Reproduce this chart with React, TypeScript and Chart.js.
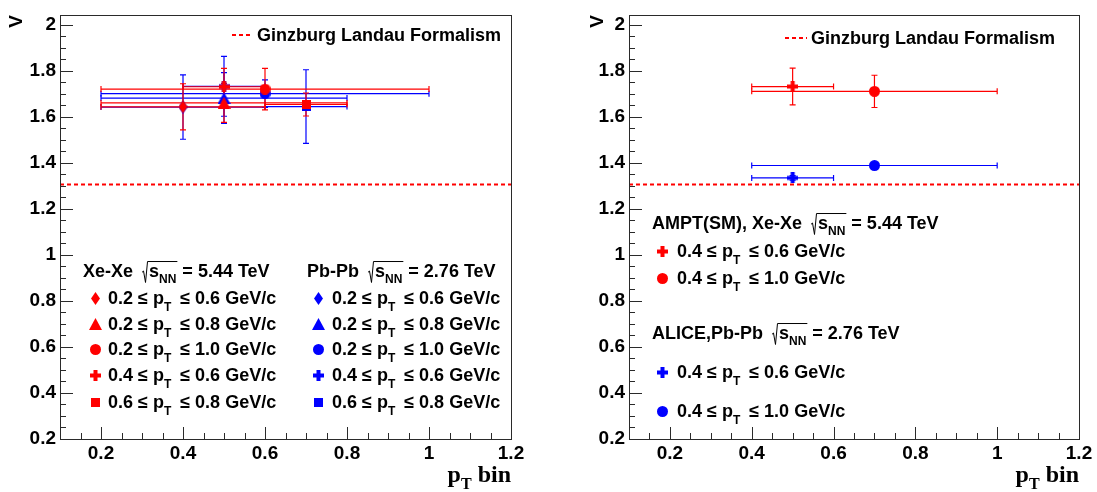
import React, { useEffect, useRef } from "react";
import { Chart, registerables } from "chart.js";

Chart.register(...registerables);

const FONT = '"Liberation Sans", Arial, Helvetica, sans-serif';
const SERIF = '"Liberation Serif", "Times New Roman", serif';

// ---------- axes ----------
const X_MIN = 0.1;
const X_MAX = 1.2;
const Y_MIN = 0.2;
const Y_MAX = 2.04;
const X_TICKS = [0.2, 0.4, 0.6, 0.8, 1.0, 1.2];
const Y_TICKS = [0.2, 0.4, 0.6, 0.8, 1.0, 1.2, 1.4, 1.6, 1.8, 2.0];
const MINOR_STEP = 0.05;
const X_TITLE_MAIN = "p";
const X_TITLE_SUB = "T";
const X_TITLE_REST = " bin";
const Y_TITLE = "V";

// ---------- Ginzburg Landau reference ----------
const GL_VALUE = 1.305;
const GL_LABEL = "Ginzburg Landau Formalism";

// ---------- left panel ----------
const LEFT_BIN_LO = ["0.2", "0.2", "0.2", "0.4", "0.6"];
const LEFT_BIN_HI = ["0.6", "0.8", "1.0", "0.6", "0.8"];
const LEFT_CENTERS = [0.4, 0.5, 0.6, 0.5, 0.7];
const LEFT_HALF_WIDTHS = [0.2, 0.3, 0.4, 0.1, 0.1];
const LEFT_MARKERS = ["diamond", "triangle", "circle", "cross", "square"];
const XE_VALUES = [1.643, 1.66, 1.72, 1.73, 1.653];
const XE_ERRORS = [0.1, 0.085, 0.09, 0.08, 0.05];
const PB_VALUES = [1.642, 1.681, 1.7, 1.732, 1.644];
const PB_ERRORS = [0.14, 0.11, 0.06, 0.13, 0.16];
const XE_HEADER = "Xe-Xe";
const XE_ENERGY = "= 5.44 TeV";
const PB_HEADER = "Pb-Pb";
const PB_ENERGY = "= 2.76 TeV";

// ---------- right panel ----------
const RIGHT_BIN_LO = ["0.4", "0.4"];
const RIGHT_BIN_HI = ["0.6", "1.0"];
const RIGHT_CENTERS = [0.5, 0.7];
const RIGHT_HALF_WIDTHS = [0.1, 0.3];
const RIGHT_MARKERS = ["cross", "circle"];
const AMPT_VALUES = [1.731, 1.71];
const AMPT_ERRORS = [0.08, 0.07];
const ALICE_VALUES = [1.334, 1.388];
const ALICE_ERRORS = [0.01, 0.012];
const AMPT_HEADER = "AMPT(SM), Xe-Xe";
const ALICE_HEADER = "ALICE,Pb-Pb";

const RED = "#ff0000";
const BLUE = "#0000ff";
const FRAME = "#2a2a2a";

const LEG = 18;

function fmt(v: number) {
  return String(Number(Number(v).toFixed(2)));
}

function makeMarker(shape: string, color: string): HTMLCanvasElement {
  const c = document.createElement("canvas");
  let w = 11, h = 11;
  if (shape === "diamond") { w = 9; h = 13; }
  if (shape === "triangle") { w = 13; h = 12; }
  if (shape === "square") { w = 9; h = 9; }
  c.width = w; c.height = h;
  const g = c.getContext("2d")!;
  g.fillStyle = color;
  g.beginPath();
  if (shape === "diamond") { g.moveTo(w / 2, 0); g.lineTo(w, h / 2); g.lineTo(w / 2, h); g.lineTo(0, h / 2); g.closePath(); }
  else if (shape === "triangle") { g.moveTo(w / 2, 0); g.lineTo(w, h); g.lineTo(0, h); g.closePath(); }
  else if (shape === "circle") { g.arc(w / 2, h / 2, w / 2, 0, Math.PI * 2); }
  else if (shape === "cross") { const a = 4; const o = (w - a) / 2; g.rect(o, 0, a, h); g.rect(0, o, w, a); }
  else { g.rect(0, 0, w, h); }
  g.fill();
  return c;
}

function setFont(ctx: CanvasRenderingContext2D, size: number, family = FONT) {
  ctx.font = `bold ${size}px ${family}`;
}

// draws "√s_NN" with a radical; returns x end
function drawSqrtS(ctx: CanvasRenderingContext2D, x: number, base: number, size: number) {
  const cap = size * 0.72;
  setFont(ctx, size);
  const sW = ctx.measureText("s").width;
  const subSize = Math.round(size * 0.68);
  setFont(ctx, subSize);
  const nnW = ctx.measureText("NN").width;
  const sx = x + 7;
  const end = sx + sW + nnW + 1;
  ctx.save();
  ctx.strokeStyle = "#000";
  ctx.lineWidth = 1;
  ctx.beginPath();
  ctx.moveTo(x, base - cap * 0.4);
  ctx.lineTo(x + 1.5, base - cap * 0.5);
  ctx.lineTo(x + 3.5, base + 5);
  ctx.lineTo(x + 5.5, base - cap - 3);
  ctx.lineTo(end, base - cap - 3);
  ctx.stroke();
  ctx.restore();
  setFont(ctx, size);
  ctx.fillText("s", sx, base);
  setFont(ctx, subSize);
  ctx.fillText("NN", sx + sW, base + size * 0.3);
  return end;
}

function drawHeader(ctx: CanvasRenderingContext2D, x: number, cy: number, name: string, energy: string) {
  const base = cy + LEG * 0.36;
  ctx.fillStyle = "#000";
  ctx.textAlign = "left";
  ctx.textBaseline = "alphabetic";
  setFont(ctx, LEG);
  ctx.fillText(name, x, base);
  let cx = x + ctx.measureText(name).width + 9;
  cx = drawSqrtS(ctx, cx, base, LEG);
  setFont(ctx, LEG);
  ctx.fillText(" " + energy, cx, base);
}

function drawBinText(ctx: CanvasRenderingContext2D, x: number, cy: number, lo: string, hi: string) {
  const base = cy + LEG * 0.36;
  ctx.fillStyle = "#000";
  ctx.textAlign = "left";
  ctx.textBaseline = "alphabetic";
  setFont(ctx, LEG);
  const a = `${lo} ≤ p`;
  ctx.fillText(a, x, base);
  let cx = x + ctx.measureText(a).width;
  const sub = Math.round(LEG * 0.68);
  setFont(ctx, sub);
  ctx.fillText("T", cx, base + LEG * 0.38);
  cx += ctx.measureText("T").width + 4;
  setFont(ctx, LEG);
  ctx.fillText(` ≤ ${hi} GeV/c`, cx, base);
}

function drawGLLegend(ctx: CanvasRenderingContext2D, x0: number, x1: number, cy: number, tx: number) {
  ctx.save();
  ctx.strokeStyle = RED;
  ctx.lineWidth = 2;
  ctx.setLineDash([4, 3]);
  ctx.beginPath();
  ctx.moveTo(x0, cy);
  ctx.lineTo(x1, cy);
  ctx.stroke();
  ctx.restore();
  ctx.fillStyle = "#000";
  ctx.textAlign = "left";
  ctx.textBaseline = "alphabetic";
  setFont(ctx, LEG);
  ctx.fillText(GL_LABEL, tx, cy + LEG * 0.36);
}

function drawMarker(ctx: CanvasRenderingContext2D, m: HTMLCanvasElement, x: number, y: number) {
  ctx.drawImage(m, Math.round(x - m.width / 2), Math.round(y - m.height / 2));
}

const errorBarsPlugin = {
  id: "errorBars",
  beforeDatasetsDraw(chart: any) {
    const { ctx, chartArea } = chart;
    const xs = chart.scales.x, ys = chart.scales.y;
    ctx.save();
    ctx.beginPath();
    ctx.rect(chartArea.left, chartArea.top, chartArea.right - chartArea.left, chartArea.bottom - chartArea.top);
    ctx.clip();
    const ds = chart.data.datasets;
    for (let i = ds.length - 1; i >= 0; i--) {
      const d: any = ds[i];
      if (!d.xErr) continue;
      ctx.strokeStyle = d.errColor;
      ctx.lineWidth = 1.2;
      d.data.forEach((p: any, k: number) => {
        const px = xs.getPixelForValue(p.x), py = ys.getPixelForValue(p.y);
        const x0 = xs.getPixelForValue(p.x - d.xErr[k]), x1 = xs.getPixelForValue(p.x + d.xErr[k]);
        const y0 = ys.getPixelForValue(p.y - d.yErr[k]), y1 = ys.getPixelForValue(p.y + d.yErr[k]);
        ctx.beginPath();
        ctx.moveTo(x0, py); ctx.lineTo(x1, py);
        ctx.moveTo(x0, py - 3); ctx.lineTo(x0, py + 3);
        ctx.moveTo(x1, py - 3); ctx.lineTo(x1, py + 3);
        ctx.moveTo(px, y0); ctx.lineTo(px, y1);
        ctx.moveTo(px - 3, y0); ctx.lineTo(px + 3, y0);
        ctx.moveTo(px - 3, y1); ctx.lineTo(px + 3, y1);
        ctx.stroke();
      });
    }
    ctx.restore();
  },
};

function makeDecor(drawLegend: (ctx: CanvasRenderingContext2D, area: any) => void, yTitleX: number) {
  return {
    id: "decor",
    afterDraw(chart: any) {
      const { ctx, chartArea } = chart;
      const xs = chart.scales.x, ys = chart.scales.y;
      const l = Math.round(chartArea.left), r = Math.round(chartArea.right);
      const t = Math.round(chartArea.top), b = Math.round(chartArea.bottom);
      ctx.save();
      ctx.strokeStyle = FRAME;
      ctx.lineWidth = 1;
      ctx.strokeRect(l + 0.5, t + 0.5, r - l, b - t);
      ctx.beginPath();
      for (let k = Math.ceil(Y_MIN / MINOR_STEP - 1e-9); k * MINOR_STEP <= Y_MAX + 1e-9; k++) {
        const v = k * MINOR_STEP;
        const major = Y_TICKS.some((m) => Math.abs(m - v) < 1e-6);
        const py = Math.round(ys.getPixelForValue(v)) + 0.5;
        ctx.moveTo(l, py);
        ctx.lineTo(l + (major ? 13 : 6), py);
      }
      for (let k = Math.ceil(X_MIN / MINOR_STEP - 1e-9); k * MINOR_STEP <= X_MAX + 1e-9; k++) {
        const v = k * MINOR_STEP;
        const major = X_TICKS.some((m) => Math.abs(m - v) < 1e-6);
        const px = Math.round(xs.getPixelForValue(v)) + 0.5;
        ctx.moveTo(px, b);
        ctx.lineTo(px, b - (major ? 12 : 6));
      }
      ctx.stroke();

      // x title
      ctx.fillStyle = "#000";
      ctx.textBaseline = "alphabetic";
      ctx.textAlign = "left";
      const ts = 24, tsub = 16;
      setFont(ctx, ts, SERIF);
      const wp = ctx.measureText(X_TITLE_MAIN).width;
      const wr = ctx.measureText(X_TITLE_REST).width;
      setFont(ctx, tsub, SERIF);
      const wt = ctx.measureText(X_TITLE_SUB).width;
      const startX = r - (wp + wt + wr);
      const base = 482;
      setFont(ctx, ts, SERIF);
      ctx.fillText(X_TITLE_MAIN, startX, base);
      setFont(ctx, tsub, SERIF);
      ctx.fillText(X_TITLE_SUB, startX + wp, base + 7);
      setFont(ctx, ts, SERIF);
      ctx.fillText(X_TITLE_REST, startX + wp + wt, base);

      // y title
      ctx.save();
      ctx.translate(yTitleX, t);
      ctx.rotate(-Math.PI / 2);
      ctx.textAlign = "right";
      setFont(ctx, 19);
      ctx.fillText(Y_TITLE, 0, 0);
      ctx.restore();

      drawLegend(ctx, chartArea);
      ctx.restore();
    },
  };
}

function buildConfig(datasets: any[], yAxisWidth: number, padRight: number, decor: any) {
  const tickFont = { family: FONT, size: 19, weight: "bold" as const };
  return {
    type: "scatter" as const,
    data: { datasets },
    options: {
      responsive: false,
      animation: false,
      devicePixelRatio: 1,
      layout: { padding: { top: 10, right: padRight, bottom: 0, left: 0 } },
      plugins: { legend: { display: false }, tooltip: { enabled: false } },
      scales: {
        x: {
          type: "linear",
          min: X_MIN,
          max: X_MAX,
          afterBuildTicks: (s: any) => { s.ticks = X_TICKS.map((v) => ({ value: v })); },
          afterFit: (s: any) => { s.height = 53; },
          grid: { display: false, drawTicks: false },
          border: { display: false },
          ticks: { autoSkip: false, maxRotation: 0, padding: 3, color: "#000", font: tickFont, callback: (v: any) => fmt(v) },
        },
        y: {
          type: "linear",
          min: Y_MIN,
          max: Y_MAX,
          afterBuildTicks: (s: any) => { s.ticks = Y_TICKS.map((v) => ({ value: v })); },
          afterFit: (s: any) => { s.width = yAxisWidth; },
          grid: { display: false, drawTicks: false },
          border: { display: false },
          ticks: { autoSkip: false, padding: 4, color: "#000", font: tickFont, callback: (v: any) => fmt(v) },
        },
      },
    },
    plugins: [errorBarsPlugin, decor],
  };
}

function glDataset() {
  return {
    data: [{ x: X_MIN, y: GL_VALUE }, { x: X_MAX, y: GL_VALUE }],
    showLine: true,
    borderColor: RED,
    borderWidth: 2,
    borderDash: [4, 3],
    pointRadius: 0,
    fill: false,
  };
}

function seriesDataset(centers: number[], values: number[], xErr: number[], yErr: number[], markers: HTMLCanvasElement[], color: string) {
  return {
    data: centers.map((c, i) => ({ x: c, y: values[i] })),
    xErr,
    yErr,
    errColor: color,
    pointStyle: markers,
    pointRadius: 6,
    backgroundColor: color,
    borderColor: color,
    showLine: false,
  };
}

export default function App() {
  const leftRef = useRef<HTMLCanvasElement>(null);
  const rightRef = useRef<HTMLCanvasElement>(null);

  useEffect(() => {
    const redLeft = LEFT_MARKERS.map((m) => makeMarker(m, RED));
    const blueLeft = LEFT_MARKERS.map((m) => makeMarker(m, BLUE));
    const redRight = RIGHT_MARKERS.map((m) => makeMarker(m, RED));
    const blueRight = RIGHT_MARKERS.map((m) => makeMarker(m, BLUE));

    const leftDecor = makeDecor((ctx) => {
      drawGLLegend(ctx, 232, 251, 35, 257);
      drawHeader(ctx, 83, 271, XE_HEADER, XE_ENERGY);
      drawHeader(ctx, 307, 271, PB_HEADER, PB_ENERGY);
      const rows = [298, 323.5, 349, 375, 402];
      rows.forEach((cy, i) => {
        drawMarker(ctx, redLeft[i], 95, cy);
        drawBinText(ctx, 108, cy, LEFT_BIN_LO[i], LEFT_BIN_HI[i]);
        drawMarker(ctx, blueLeft[i], 318, cy);
        drawBinText(ctx, 332, cy, LEFT_BIN_LO[i], LEFT_BIN_HI[i]);
      });
    }, 22);

    const rightDecor = makeDecor((ctx) => {
      drawGLLegend(ctx, 237, 259, 38, 263);
      drawHeader(ctx, 104, 223, AMPT_HEADER, XE_ENERGY);
      drawMarker(ctx, redRight[0], 114, 251);
      drawBinText(ctx, 129, 251, RIGHT_BIN_LO[0], RIGHT_BIN_HI[0]);
      drawMarker(ctx, redRight[1], 114, 278);
      drawBinText(ctx, 129, 278, RIGHT_BIN_LO[1], RIGHT_BIN_HI[1]);
      drawHeader(ctx, 104, 333, ALICE_HEADER, PB_ENERGY);
      drawMarker(ctx, blueRight[0], 114, 372);
      drawBinText(ctx, 129, 372, RIGHT_BIN_LO[0], RIGHT_BIN_HI[0]);
      drawMarker(ctx, blueRight[1], 114, 411);
      drawBinText(ctx, 129, 411, RIGHT_BIN_LO[1], RIGHT_BIN_HI[1]);
    }, 55);

    const left = new Chart(
      leftRef.current!,
      buildConfig(
        [
          seriesDataset(LEFT_CENTERS, XE_VALUES, LEFT_HALF_WIDTHS, XE_ERRORS, redLeft, RED),
          seriesDataset(LEFT_CENTERS, PB_VALUES, LEFT_HALF_WIDTHS, PB_ERRORS, blueLeft, BLUE),
          glDataset(),
        ],
        60,
        37,
        leftDecor
      ) as any
    );
    const right = new Chart(
      rightRef.current!,
      buildConfig(
        [
          seriesDataset(RIGHT_CENTERS, AMPT_VALUES, RIGHT_HALF_WIDTHS, AMPT_ERRORS, redRight, RED),
          seriesDataset(RIGHT_CENTERS, ALICE_VALUES, RIGHT_HALF_WIDTHS, ALICE_ERRORS, blueRight, BLUE),
          glDataset(),
        ],
        81,
        18,
        rightDecor
      ) as any
    );
    return () => {
      left.destroy();
      right.destroy();
    };
  }, []);

  return (
    <div style={{ position: "absolute", left: 0, top: 0, width: 1097, height: 492, background: "#fff" }}>
      <canvas ref={leftRef} width={548} height={492} style={{ position: "absolute", left: 0, top: 0, width: 548, height: 492 }} />
      <canvas ref={rightRef} width={549} height={492} style={{ position: "absolute", left: 548, top: 0, width: 549, height: 492 }} />
    </div>
  );
}
